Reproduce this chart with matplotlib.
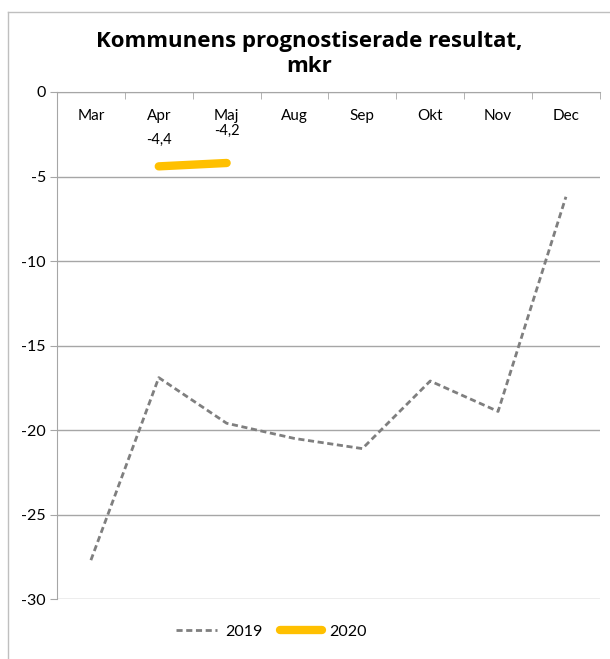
import matplotlib
matplotlib.use('Agg')
import matplotlib.pyplot as plt
from matplotlib.lines import Line2D
from matplotlib.ticker import FixedLocator

plt.rcParams['font.family'] = ['Lato', 'DejaVu Sans']

months = ['Mar', 'Apr', 'Maj', 'Aug', 'Sep', 'Okt', 'Nov', 'Dec']
res_2019 = [-27.7, -16.9, -19.6, -20.5, -21.1, -17.1, -18.9, -6.2]
months_2020 = ['Apr', 'Maj']
res_2020 = [-4.4, -4.2]
yticks = [0, -5, -10, -15, -20, -25, -30]

grid_col = '#a6a6a6'

fig = plt.figure(figsize=(6.1, 6.59), dpi=100)
ax = fig.add_axes([0.0934, 0.0910, 0.890, 0.7694])

x19 = list(range(len(months)))
x20 = [months.index(m) for m in months_2020]

ax.plot(x19, res_2019, color='#7f7f7f', lw=2, ls=(0, (2.2, 1.3)), label='2019')
ax.plot(x20, res_2020, color='#FFC000', lw=6, solid_capstyle='round', label='2020')

# data labels for 2020, Excel puts them above the points
for xi, v, dy in zip(x20, res_2020, [19, 23]):
    ax.annotate(f'{v:.1f}'.replace('.', ','), (xi, v), xytext=(0, dy),
                textcoords='offset points', ha='center', va='center', fontsize=10.5)

ax.set_xlim(-0.5, len(months) - 0.5)
ax.set_ylim(-30, 0)
ax.set_yticks(yticks)
ax.set_yticklabels([str(t) for t in yticks], fontsize=11.5)
ax.yaxis.grid(True, color=grid_col, lw=1)
ax.set_axisbelow(True)
ax.tick_params(axis='y', length=5, color=grid_col, pad=3)

ax.xaxis.tick_top()
ax.set_xticks(x19)
ax.set_xticklabels(months, fontsize=11)
ax.tick_params(axis='x', which='major', length=0, pad=-22)
ax.xaxis.set_minor_locator(FixedLocator([i + 0.5 for i in range(-1, len(months))]))
ax.tick_params(axis='x', which='minor', direction='in', length=5, color=grid_col, top=True)

for s in ['right', 'bottom']:
    ax.spines[s].set_visible(False)
ax.spines['left'].set_color(grid_col)
ax.spines['top'].set_color(grid_col)

fig.text(0.507, 0.918, 'Kommunens prognostiserade resultat,\nmkr', ha='center', va='center',
         fontsize=16, fontweight='bold', linespacing=1.3, family=['Open Sans', 'DejaVu Sans'])

fig.legend(loc='center', bbox_to_anchor=(0.445, 0.041), ncol=2, frameon=False,
           fontsize=11.5, handlelength=2.6, columnspacing=1.1, handletextpad=0.5)

# chart frame (cut off at right and bottom in the reference)
fig.add_artist(Line2D([0.0131, 0.0131], [0, 0.9818], color='#bfbfbf', lw=1))
fig.add_artist(Line2D([0.0131, 1], [0.9818, 0.9818], color='#bfbfbf', lw=1))

fig.savefig('out.png', dpi=100)
